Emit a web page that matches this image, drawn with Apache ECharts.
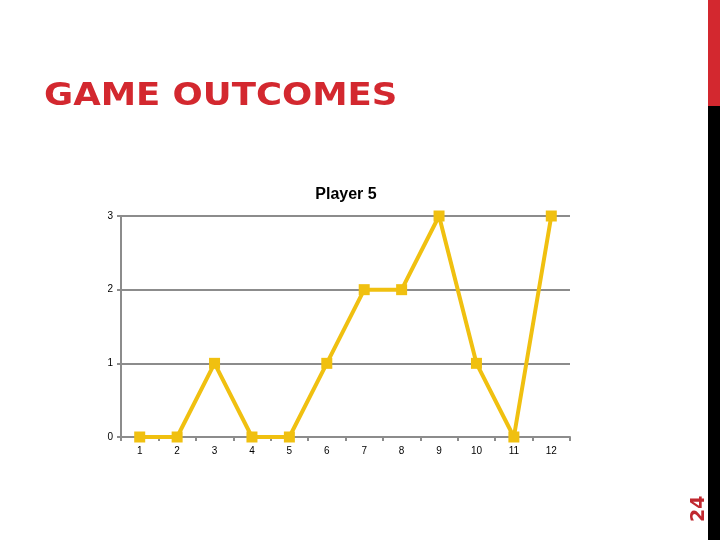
<!DOCTYPE html>
<html>
<head>
<meta charset="utf-8">
<script src="https://cdn.jsdelivr.net/npm/echarts@6/dist/echarts.min.js"></script>
<style>
  html, body { margin: 0; padding: 0; background: #fff; }
  #main { width: 720px; height: 540px; }
</style>
</head>
<body>
<div id="main"></div>
<script>
// data
var games = ['1', '2', '3', '4', '5', '6', '7', '8', '9', '10', '11', '12'];
var outcomes = [0, 0, 1, 0, 0, 1, 2, 2, 3, 1, 0, 3];

var chartDom = document.getElementById('main');
var myChart = echarts.init(chartDom);
var option;

option = {
  backgroundColor: '#fff',
  animation: false,
  title: {
    text: 'Player 5',
    left: 341,
    textAlign: 'center',
    top: 182,
    textStyle: { fontFamily: 'Liberation Sans', fontSize: 16, fontWeight: 'bold', color: '#000' }
  },
  graphic: [
    { type: 'rect', shape: { x: 708, y: 0, width: 12, height: 540 }, style: { fill: '#000' } },
    { type: 'rect', shape: { x: 708, y: 0, width: 12, height: 106 }, style: { fill: '#D3282F' } },
    {
      // slide heading, stretched a little to match the wide heavy face
      type: 'text', x: 44, y: 81, scaleX: 1.11,
      style: { text: 'GAME OUTCOMES', fill: '#D3282F', font: 'bold 32px "DejaVu Sans"' }
    },
    {
      type: 'text', x: 709, y: 522, rotation: Math.PI / 2,
      style: { text: '24', fill: '#C0282F', font: 'bold 19px "DejaVu Sans"', textVerticalAlign: 'bottom' }
    }
  ],
  grid: { left: 121, right: 150, top: 216, bottom: 103 },
  xAxis: {
    type: 'category',
    data: games,
    boundaryGap: true,
    axisLine: { lineStyle: { color: '#8c8c8c', width: 2 } },
    axisTick: { show: true, length: 4, lineStyle: { color: '#8c8c8c', width: 2 } },
    axisLabel: { color: '#000', fontSize: 10, fontFamily: 'Liberation Sans', margin: 9 }
  },
  yAxis: {
    type: 'value',
    min: 0,
    max: 3,
    interval: 1,
    axisLine: { show: true, lineStyle: { color: '#8c8c8c', width: 2 } },
    axisTick: { show: true, length: 4, lineStyle: { color: '#8c8c8c', width: 2 } },
    splitLine: { lineStyle: { color: '#8c8c8c', width: 2 } },
    axisLabel: { color: '#000', fontSize: 10, fontFamily: 'Liberation Sans', margin: 8 }
  },
  series: [
    {
      name: 'Player 5',
      type: 'line',
      data: outcomes,
      symbol: 'rect',
      symbolSize: 11,
      lineStyle: { color: '#F0C010', width: 4 },
      itemStyle: { color: '#F0C010' }
    }
  ]
};

option && myChart.setOption(option);
</script>
</body>
</html>
